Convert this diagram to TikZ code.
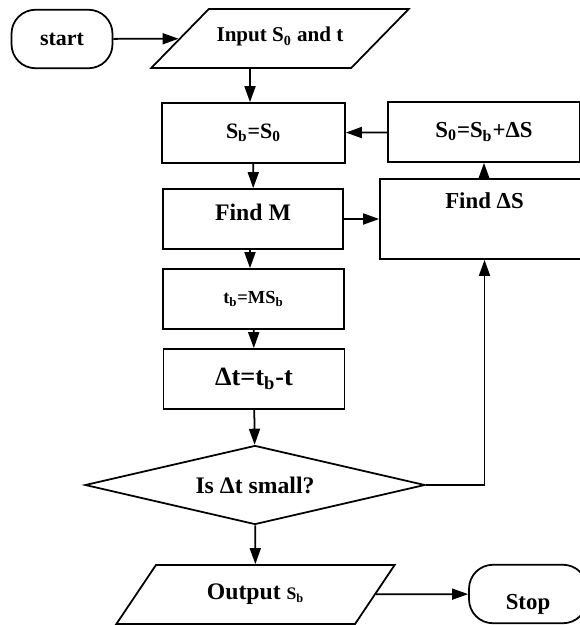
\documentclass[tikz,border=0pt]{standalone}
\usepackage{fontspec}
\setmainfont{Liberation Serif}
\usetikzlibrary{shapes.geometric, arrows.meta, positioning, calc}

\begin{document}
\begin{tikzpicture}[x=0.02cm, y=-0.02cm,
    term/.style={draw, line width=1pt, rounded corners=0.48cm, minimum height=1.17cm, inner sep=0pt, font=\fontsize{12.5}{14}\selectfont\bfseries},
    io/.style={draw, line width=1pt, trapezium, trapezium stretches, trapezium left angle=49, trapezium right angle=131, minimum height=1.18cm, inner sep=0pt, font=\fontsize{12}{14}\selectfont\bfseries},
    proc/.style={draw, line width=1pt, minimum width=3.62cm, minimum height=1.2cm, inner sep=0pt, align=center, font=\fontsize{12.5}{14}\selectfont\bfseries},
    decide/.style={draw, line width=1pt, diamond, aspect=4.3, minimum width=6.8cm, minimum height=1.58cm, inner sep=0pt, font=\fontsize{13.5}{15}\selectfont\bfseries},
    link/.style={draw, line width=1pt, -{Triangle[length=3.2mm, width=2.2mm]}}
]
    \clip (0,0) rectangle (580,625);

    \node[term, minimum width=2.02cm] (start) at (62,39) {start};
    \node[io, minimum width=5.16cm, text height=0.66cm, text depth=0.52cm] (input) at (280,38.5) {Input S\textsubscript{0} and t};
    \node[proc, minimum width=3.66cm] (sb) at (253.5,133) {S\textsubscript{b}=S\textsubscript{0}};
    \node[proc, minimum width=3.84cm, font=\fontsize{13}{15}\selectfont\bfseries] (s0) at (484,132) {S\textsubscript{0}=S\textsubscript{b}+ΔS};
    \node[proc, minimum width=3.6cm, text height=0.63cm, text depth=0.57cm, font=\fontsize{13.5}{15}\selectfont\bfseries] (findM) at (253,219) {Find M};
    \node[proc, minimum width=4.18cm, minimum height=1.6cm, text height=0.58cm, text depth=1.02cm, font=\fontsize{13}{15}\selectfont\bfseries] (findS) at (484.5,219) {Find ΔS};
    \node[proc, font=\fontsize{10.5}{12}\selectfont\bfseries] (tb) at (253.5,299) {t\textsubscript{b}=MS\textsubscript{b}};
    \node[proc, font=\fontsize{15}{17}\selectfont\bfseries] (dt) at (254,379) {Δt=t\textsubscript{b}-t};
    \node[decide] (dia) at (255,485) {Is Δt small?};
    \node[io, trapezium left angle=47, trapezium right angle=133, minimum width=5.58cm, font=\fontsize{13.5}{15}\selectfont\bfseries] (out) at (255.5,594.5) {Output {\fontsize{10}{12}\selectfont S\textsubscript{b}}};
    \node[term, minimum width=2.36cm, text height=0.88cm, text depth=0.28cm, font=\fontsize{13}{15}\selectfont\bfseries] (stop) at (528,594) {Stop};

    \draw[link] (start) -- (input);
    \draw[link] (input.south -| 250,0) -- (sb.north -| 250,0);
    \draw[link] (s0) -- (sb);
    \draw[link] (sb) -- (findM);
    \draw[link] (findM) -- (findS);
    \draw[link] (findS.north -| s0.south) -- (s0.south);
    \draw[link] (findM.south -| 250,0) -- (tb.north -| 250,0);
    \draw[link] (tb) -- (dt);
    \draw[link] (dt) -- (dia);
    \draw[link] (dia.east) -| (findS.south);
    \draw[link] (dia) -- (out);
    \draw[link] (out) -- (stop);
\end{tikzpicture}
\end{document}
